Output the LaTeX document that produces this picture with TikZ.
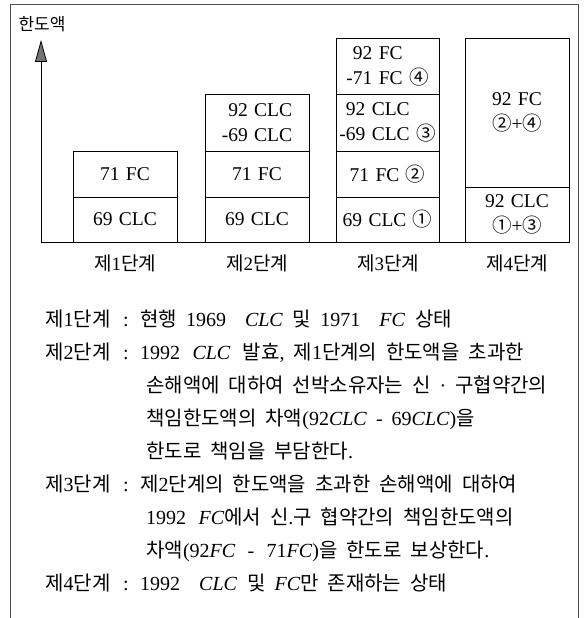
\documentclass[tikz,border=0pt]{standalone}
\usepackage{fontspec}
\setmainfont{Liberation Serif}[WordSpace=1.8]
\newfontfamily\cellfont{Liberation Serif}[WordSpace=1.3]
\newfontfamily\krfont{Noto Sans CJK KR}[WordSpace=2]
\newcommand\K[1]{{\krfont #1}}
\usetikzlibrary{arrows.meta}

\tikzset{
  cell/.style={draw=black, line width=0.8pt, rectangle, inner sep=0pt,
    font={\fontsize{19.5}{25}\selectfont\cellfont}},
  stagelbl/.style={anchor=base, inner sep=0pt, font=\fontsize{19}{23}\selectfont},
  txt/.style={anchor=base west, inner sep=0pt, font=\fontsize{20}{23}\selectfont},
  colon/.style={anchor=base, inner sep=0pt, font=\fontsize{20}{23}\selectfont},
  frameline/.style={draw=black!70, line width=0.8pt},
  axisline/.style={draw=black, line width=0.8pt}
}

\begin{document}
\begin{tikzpicture}[x=1pt,y=-1pt]
\useasboundingbox (0,0) rectangle (584,618);
% outer frame
\draw[frameline] (10,618) -- (10,4) -- (578,4) -- (578,618);

% axis label
\node[anchor=base, inner sep=0pt, font=\fontsize{17}{20}\selectfont] (ylab) at (42,31) {\K{한도액}};

% axes
\coordinate (o) at (41,242);
\coordinate (ytop) at (41,40);
\coordinate (xend) at (569,242);
\draw[axisline, -{Triangle[length=22pt,width=12pt,fill=black!55]}] (o) -- (ytop);
\draw[axisline] (o) -- (xend);

% stage 1
\node[cell, minimum width=104pt, minimum height=46pt] (c1b) at (125,174) {71 FC};
\node[cell, minimum width=104pt, minimum height=45pt] (c1a) at (125,219.5) {69 CLC};
% stage 2
\node[cell, minimum width=104pt, minimum height=57pt, align=right] (c2c) at (257,122.5) {92 CLC\\-69 CLC};
\node[cell, minimum width=104pt, minimum height=46pt] (c2b) at (257,174) {71 FC};
\node[cell, minimum width=104pt, minimum height=45pt] (c2a) at (257,219.5) {69 CLC};
% stage 3
\node[cell, minimum width=103pt, minimum height=56pt, align=left] (c3d) at (387.5,66) {\hphantom{-}92 FC\\-71 FC \K{④}};
\node[cell, minimum width=103pt, minimum height=57pt, align=left] (c3c) at (387.5,122.5) {\hphantom{-}92 CLC\\-69 CLC \K{③}};
\node[cell, minimum width=103pt, minimum height=46pt] (c3b) at (387.5,174) {71 FC \K{②}};
\node[cell, minimum width=103pt, minimum height=45pt] (c3a) at (387.5,219.5) {69 CLC \K{①}};
% stage 4
\node[cell, minimum width=104pt, minimum height=149pt, align=center] (c4b) at (517,112.5) {92 FC\\\K{②}+\K{④}};
\node[cell, minimum width=104pt, minimum height=55pt, align=center] (c4a) at (517,214.5) {92 CLC\\\K{①}+\K{③}};

% stage labels
\node[stagelbl] (l1) at (125,270) {\K{제}1\K{단계}};
\node[stagelbl] (l2) at (257,270) {\K{제}2\K{단계}};
\node[stagelbl] (l3) at (388,270) {\K{제}3\K{단계}};
\node[stagelbl] (l4) at (517,270) {\K{제}4\K{단계}};

% explanation
\node[txt] (t1a) at (45,326) {\K{제}1\K{단계}};
\node[colon] (t1b) at (126,326) {:};
\node[txt] (t1c) at (140,326) {\K{현행} 1969 \enspace\textit{CLC}\enspace \K{및} 1971 \enspace\textit{FC}\enspace \K{상태}};

\node[txt] (t2a) at (45,359) {\K{제}2\K{단계}};
\node[colon] (t2b) at (126,359) {:};
\node[txt] (t2c) at (140,359) {1992 \,\textit{CLC}\, \K{발효}, \K{제}1\K{단계의 한도액을 초과한}};
\node[txt] (t3) at (146,392) {\K{손해액에 대하여 선박소유자는 신} · \K{구협약간의}};
\node[txt] (t4) at (146,425) {\K{책임한도액의 차액}(92\textit{CLC} - 69\textit{CLC})\K{을}};
\node[txt] (t5) at (146,458) {\K{한도로 책임을 부담한다}.};

\node[txt] (t6a) at (45,491) {\K{제}3\K{단계}};
\node[colon] (t6b) at (126,491) {:};
\node[txt] (t6c) at (140,491) {\K{제}2\K{단계의 한도액을 초과한 손해액에 대하여}};
\node[txt] (t7) at (146,524) {1992 \,\textit{FC}\K{에서 신}.\K{구 협약간의 책임한도액의}};
\node[txt] (t8) at (146,557) {\K{차액}(92\textit{FC} \,-\, 71\textit{FC})\K{을 한도로 보상한다}.};

\node[txt] (t9a) at (45,590) {\K{제}4\K{단계}};
\node[colon] (t9b) at (126,590) {:};
\node[txt] (t9c) at (140,590) {1992 \enspace\textit{CLC}\enspace \K{및} \textit{FC}\K{만 존재하는 상태}};
\end{tikzpicture}
\end{document}
